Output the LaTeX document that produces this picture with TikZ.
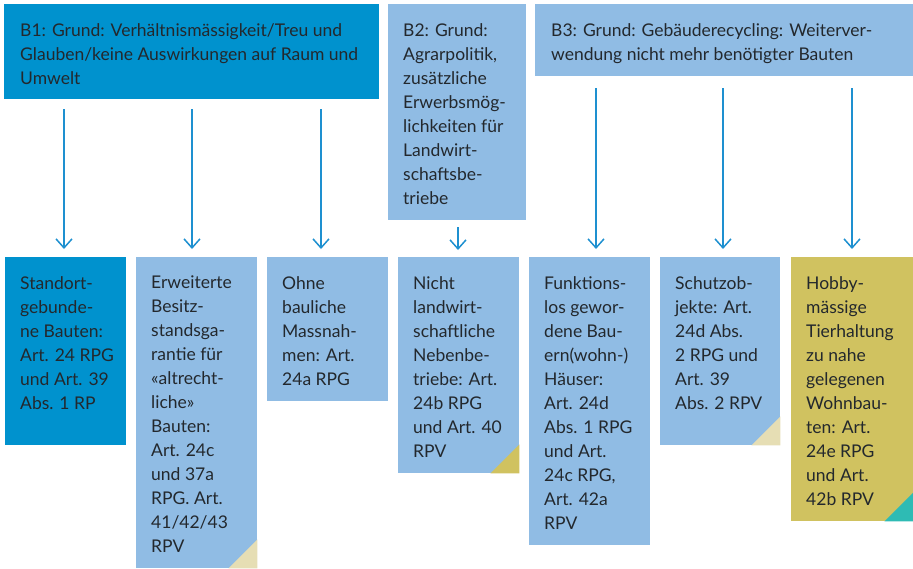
\documentclass[tikz,border=0pt]{standalone}
\usepackage{fontspec}
\setmainfont{Lato}
\usetikzlibrary{arrows.meta}
\definecolor{dblue}{HTML}{0092CE}
\definecolor{lblue}{HTML}{90BCE4}
\definecolor{olive}{HTML}{D0C260}
\definecolor{beige}{HTML}{E6DEB4}
\definecolor{teal2}{HTML}{2EBBB4}
\definecolor{txt}{HTML}{23282D}
\definecolor{arrc}{HTML}{1E90D0}
\tikzset{
  boxbase/.style={draw=none, inner sep=0pt, anchor=north west},
  dbox/.style={boxbase, fill=dblue},
  lbox/.style={boxbase, fill=lblue},
  obox/.style={boxbase, fill=olive},
  lbl/.style={inner sep=0pt, anchor=north west, align=left, text=txt,
    font=\fontsize{17.5}{24}\selectfont},
  arr/.style={draw=arrc, line width=1.5pt,
    -{Straight Barb[length=9pt,width=16pt,line width=1.5pt]}}
}
\begin{document}
\begin{tikzpicture}[x=1pt,y=-1pt]
\useasboundingbox (0,0) rectangle (913,568);
% top boxes
\node[dbox, minimum width=375, minimum height=95] (b1) at (4,4) {};
\node[lbox, minimum width=138, minimum height=216] (b2) at (388,4) {};
\node[lbox, minimum width=378, minimum height=72] (b3) at (535,4) {};
\node[lbl] (t1) at ([shift={(16,19)}]b1.north west) {B1: Grund: Verhältnismässigkeit/Treu und\\Glauben/keine Auswirkungen auf Raum und\\Umwelt};
\node[lbl] (t2) at ([shift={(15,19)}]b2.north west) {B2: Grund:\\Agrarpolitik,\\zusätzliche\\Erwerbsmög-\\lichkeiten für\\Landwirt-\\schaftsbe-\\triebe};
\node[lbl] (t3) at ([shift={(16,19)}]b3.north west) {B3: Grund: Gebäuderecycling: Weiterver-\\wendung nicht mehr benötigter Bauten};
% bottom boxes
\node[dbox, minimum width=121, minimum height=188] (c1) at (5,257) {};
\node[lbox, minimum width=121, minimum height=311] (c2) at (136,257) {};
\node[lbox, minimum width=121, minimum height=144] (c3) at (267,257) {};
\node[lbox, minimum width=121, minimum height=216] (c4) at (398,257) {};
\node[lbox, minimum width=121, minimum height=288] (c5) at (529,257) {};
\node[lbox, minimum width=120, minimum height=188] (c6) at (660,257) {};
\node[obox, minimum width=122, minimum height=264] (c7) at (791,257) {};
% corner triangles
\fill[beige] (c2.south east) -- ++(-29,0) -- ++(29,-29) -- cycle;
\fill[olive] (c4.south east) -- ++(-29,0) -- ++(29,-29) -- cycle;
\fill[beige] (c6.south east) -- ++(-29,0) -- ++(29,-29) -- cycle;
\fill[teal2] (c7.south east) -- ++(-29,0) -- ++(29,-29) -- cycle;
% texts
\node[lbl] (d1) at ([shift={(15,19)}]c1.north west) {Standort-\\gebunde-\\ne Bauten:\\Art. 24 RPG\\und Art. 39\\Abs. 1 RP};
\node[lbl] (d2) at ([shift={(15,19)}]c2.north west) {Erweiterte\\Besitz-\\standsga-\\rantie für\\«altrecht-\\liche»\\Bauten:\\Art. 24c\\und 37a\\RPG. Art.\\41/42/43\\RPV};
\node[lbl] (d3) at ([shift={(15,19)}]c3.north west) {Ohne\\bauliche\\Massnah-\\men: Art.\\24a RPG};
\node[lbl] (d4) at ([shift={(15,19)}]c4.north west) {Nicht\\landwirt-\\schaftliche\\Nebenbe-\\triebe: Art.\\24b RPG\\und Art. 40\\RPV};
\node[lbl] (d5) at ([shift={(15,19)}]c5.north west) {Funktions-\\los gewor-\\dene Bau-\\ern(wohn-)\\Häuser:\\Art. 24d\\Abs. 1 RPG\\und Art.\\24c RPG,\\Art. 42a\\RPV};
\node[lbl] (d6) at ([shift={(15,19)}]c6.north west) {Schutzob-\\jekte: Art.\\24d Abs.\\2 RPG und\\Art. 39\\Abs. 2 RPV};
\node[lbl] (d7) at ([shift={(15,19)}]c7.north west) {Hobby-\\mässige\\Tierhaltung\\zu nahe\\gelegenen\\Wohnbau-\\ten: Art.\\24e RPG\\und Art.\\42b RPV};
% arrows
\draw[arr, shorten <=10pt, shorten >=8pt] (b1.south -| 64,0) -- (c1.north -| 64,0);
\draw[arr, shorten <=10pt, shorten >=8pt] (b1.south -| 192,0) -- (c2.north -| 192,0);
\draw[arr, shorten <=10pt, shorten >=8pt] (b1.south -| 321,0) -- (c3.north -| 321,0);
\draw[arr, shorten <=7pt, shorten >=7pt] (b2.south -| 458,0) -- (c4.north -| 458,0);
\draw[arr, shorten <=12pt, shorten >=8pt] (b3.south -| 596,0) -- (c5.north -| 596,0);
\draw[arr, shorten <=12pt, shorten >=8pt] (b3.south -| 723,0) -- (c6.north -| 723,0);
\draw[arr, shorten <=12pt, shorten >=8pt] (b3.south -| 852,0) -- (c7.north -| 852,0);
\end{tikzpicture}
\end{document}
